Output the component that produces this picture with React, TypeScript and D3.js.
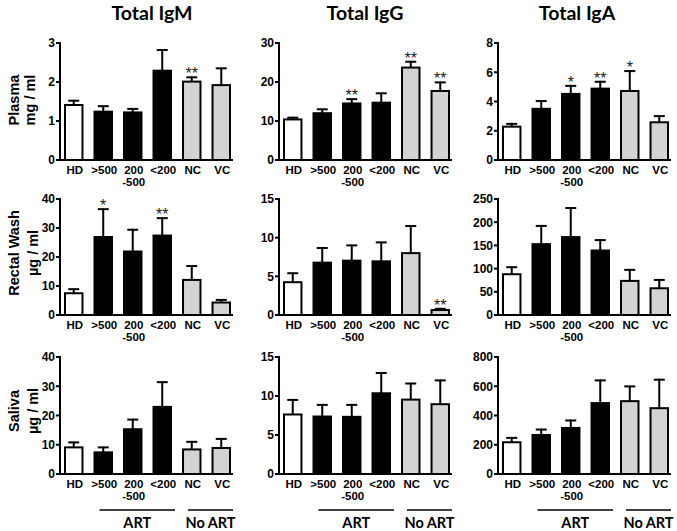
import React from "react";
import * as d3 from "d3";

const categories = ["HD", ">500", "200-500", "<200", "NC", "VC"];
const categoryLabels = [["HD"], [">500"], ["200", "-500"], ["<200"], ["NC"], ["VC"]];
const barFills = ["#ffffff", "#000000", "#000000", "#000000", "#d3d3d3", "#d3d3d3"];

const columnTitles = ["Total IgM", "Total IgG", "Total IgA"];
const rowNames = ["Plasma", "Rectal Wash", "Saliva"];
const rowUnits = ["mg / ml", "µg / ml", "µg / ml"];

// Plasma
const igmPlasmaMean = [1.41, 1.24, 1.22, 2.29, 2.01, 1.92];
const igmPlasmaUpper = [1.52, 1.38, 1.31, 2.82, 2.12, 2.35];
const igmPlasmaStars = ["", "", "", "", "**", ""];
const igmPlasmaTicks = [0, 1, 2, 3];

const iggPlasmaMean = [10.4, 12.0, 14.5, 14.7, 23.7, 17.7];
const iggPlasmaUpper = [10.85, 13.0, 15.6, 17.1, 25.2, 19.9];
const iggPlasmaStars = ["", "", "**", "", "**", "**"];
const iggPlasmaTicks = [0, 10, 20, 30];

const igaPlasmaMean = [2.28, 3.5, 4.52, 4.88, 4.72, 2.58];
const igaPlasmaUpper = [2.47, 4.03, 5.07, 5.35, 6.08, 3.0];
const igaPlasmaStars = ["", "", "*", "**", "*", ""];
const igaPlasmaTicks = [0, 2, 4, 6, 8];

// Rectal wash
const igmRectalMean = [7.5, 26.9, 21.9, 27.4, 12.1, 4.3];
const igmRectalUpper = [8.9, 36.5, 29.4, 33.4, 16.9, 5.2];
const igmRectalStars = ["", "*", "", "**", "", ""];
const igmRectalTicks = [0, 10, 20, 30, 40];

const iggRectalMean = [4.24, 6.77, 7.03, 6.94, 8.0, 0.64];
const iggRectalUpper = [5.4, 8.66, 9.0, 9.39, 11.5, 0.8];
const iggRectalStars = ["", "", "", "", "", "**"];
const iggRectalTicks = [0, 5, 10, 15];

const igaRectalMean = [87.9, 152.7, 167.9, 139, 73.5, 57.6];
const igaRectalUpper = [103, 192, 230.5, 161.4, 97.3, 75.6];
const igaRectalStars = ["", "", "", "", "", ""];
const igaRectalTicks = [0, 50, 100, 150, 200, 250];

// Saliva
const igmSalivaMean = [9.1, 7.4, 15.3, 22.95, 8.4, 8.9];
const igmSalivaUpper = [10.8, 9.1, 18.6, 31.4, 11.0, 12.0];
const igmSalivaStars = ["", "", "", "", "", ""];
const igmSalivaTicks = [0, 10, 20, 30, 40];

const iggSalivaMean = [7.63, 7.37, 7.33, 10.35, 9.54, 8.95];
const iggSalivaUpper = [9.5, 8.86, 8.86, 12.95, 11.6, 12.0];
const iggSalivaStars = ["", "", "", "", "", ""];
const iggSalivaTicks = [0, 5, 10, 15];

const igaSalivaMean = [217, 267, 315, 485, 498, 450];
const igaSalivaUpper = [247, 304, 366, 640, 599, 645];
const igaSalivaStars = ["", "", "", "", "", ""];
const igaSalivaTicks = [0, 200, 400, 600, 800];

const groupLabels = ["ART", "No ART"];

const panels = [
  [
    { mean: igmPlasmaMean, upper: igmPlasmaUpper, stars: igmPlasmaStars, ticks: igmPlasmaTicks },
    { mean: iggPlasmaMean, upper: iggPlasmaUpper, stars: iggPlasmaStars, ticks: iggPlasmaTicks },
    { mean: igaPlasmaMean, upper: igaPlasmaUpper, stars: igaPlasmaStars, ticks: igaPlasmaTicks },
  ],
  [
    { mean: igmRectalMean, upper: igmRectalUpper, stars: igmRectalStars, ticks: igmRectalTicks },
    { mean: iggRectalMean, upper: iggRectalUpper, stars: iggRectalStars, ticks: iggRectalTicks },
    { mean: igaRectalMean, upper: igaRectalUpper, stars: igaRectalStars, ticks: igaRectalTicks },
  ],
  [
    { mean: igmSalivaMean, upper: igmSalivaUpper, stars: igmSalivaStars, ticks: igmSalivaTicks },
    { mean: iggSalivaMean, upper: iggSalivaUpper, stars: iggSalivaStars, ticks: iggSalivaTicks },
    { mean: igaSalivaMean, upper: igaSalivaUpper, stars: igaSalivaStars, ticks: igaSalivaTicks },
  ],
];

const W = 677;
const H = 531;
const colAxisX = [60, 279, 498];
const rowRanges: [number, number][] = [
  [160, 43],
  [315, 199],
  [474, 357],
];
const titleCenters = [152, 365, 577];
const rowLabelCenters = [100, 253, 411];

const tickFont = "'Liberation Sans', Arial, sans-serif";
const labelFont = "Lato, 'Open Sans', sans-serif";

function Panel({ row, col }: { row: number; col: number }) {
  const p = panels[row][col];
  const ax = colAxisX[col];
  const [y0, y1] = rowRanges[row];
  const y = d3
    .scaleLinear()
    .domain([0, p.ticks[p.ticks.length - 1]])
    .range([y0, y1]);
  const x = d3
    .scaleBand<string>()
    .domain(categories)
    .range([ax + 4, ax + 171])
    .paddingInner(0.34)
    .paddingOuter(0);
  const bw = x.bandwidth();
  const xEnd = ax + 173;
  return (
    <g>
      {categories.map((c, i) => {
        const bx = x(c)!;
        const top = y(p.mean[i]);
        const up = y(p.upper[i]);
        const cx = bx + bw / 2;
        return (
          <g key={c}>
            <line x1={cx} x2={cx} y1={top} y2={up} stroke="#000" strokeWidth={2} />
            <line x1={cx - 0.5} x2={cx + 5.5} y1={up} y2={up} stroke="#000" strokeWidth={2} />
            <line x1={cx - 5.5} x2={cx + 0.5} y1={up} y2={up} stroke="#000" strokeWidth={2} />
            <rect
              x={bx + 1}
              y={top}
              width={bw - 2}
              height={y0 - top}
              fill={barFills[i]}
              stroke="#000"
              strokeWidth={2}
            />
            {p.stars[i] && (
              <text
                x={cx}
                y={up + 2}
                textAnchor="middle"
                fontFamily={tickFont}
                fontSize={16}
                fill="#222"
              >
                {p.stars[i]}
              </text>
            )}
            {categoryLabels[i].map((t, k) => (
              <text
                key={k}
                x={cx + 1}
                y={y0 + 14 + k * 12}
                textAnchor="middle"
                fontFamily={tickFont}
                fontWeight="bold"
                fontSize={11.5}
                fill="#000"
              >
                {t}
              </text>
            ))}
          </g>
        );
      })}
      {/* axes */}
      <line x1={ax} x2={ax} y1={y0 + 1} y2={y1 - 1} stroke="#000" strokeWidth={2} />
      <line x1={ax - 1} x2={xEnd} y1={y0} y2={y0} stroke="#000" strokeWidth={2} />
      {p.ticks.map((t) => (
        <g key={t}>
          <line x1={ax - 4} x2={ax} y1={y(t)} y2={y(t)} stroke="#000" strokeWidth={2} />
          <text
            x={ax - 5}
            y={y(t)}
            dy="0.36em"
            textAnchor="end"
            fontFamily={tickFont}
            fontWeight="bold"
            fontSize={12}
            fill="#000"
          >
            {t}
          </text>
        </g>
      ))}
      {row === 2 && (
        <g>
          {[
            [x(">500")! + 6, x("<200")! + bw + 3],
            [x("NC")! + 6, x("VC")! + bw + 2],
          ].map(([a, b], k) => (
            <g key={k}>
              <line x1={a} x2={b} y1={510} y2={510} stroke="#000" strokeWidth={1.3} />
              <text
                x={(a + b) / 2}
                y={528}
                textAnchor="middle"
                fontFamily={labelFont}
                fontWeight="bold"
                fontSize={14.5}
                fill="#000"
              >
                {groupLabels[k]}
              </text>
            </g>
          ))}
        </g>
      )}
    </g>
  );
}

export default function App() {
  return (
    <svg width={W} height={H} style={{ display: "block", position: "absolute", left: 0, top: 0 }}>
      <rect width={W} height={H} fill="#fff" />
      {columnTitles.map((t, i) => (
        <text
          key={t}
          x={titleCenters[i]}
          y={20}
          textAnchor="middle"
          fontFamily={labelFont}
          fontWeight="bold"
          fontSize={19.5}
          fill="#000"
        >
          {t}
        </text>
      ))}
      {rowNames.map((r, i) => (
        <g key={r}>
          <text
            transform={`translate(19,${rowLabelCenters[i]}) rotate(-90)`}
            textAnchor="middle"
            fontFamily={tickFont}
            fontWeight="bold"
            fontSize={14.5}
            fill="#000"
          >
            {r}
          </text>
          <text
            transform={`translate(${i === 0 ? 35 : 38},${rowLabelCenters[i]}) rotate(-90)`}
            textAnchor="middle"
            fontFamily={tickFont}
            fontWeight="bold"
            fontSize={14.5}
            fill="#000"
          >
            {rowUnits[i]}
          </text>
        </g>
      ))}
      {panels.map((rowP, r) => rowP.map((_, c) => <Panel key={`${r}-${c}`} row={r} col={c} />))}
    </svg>
  );
}
